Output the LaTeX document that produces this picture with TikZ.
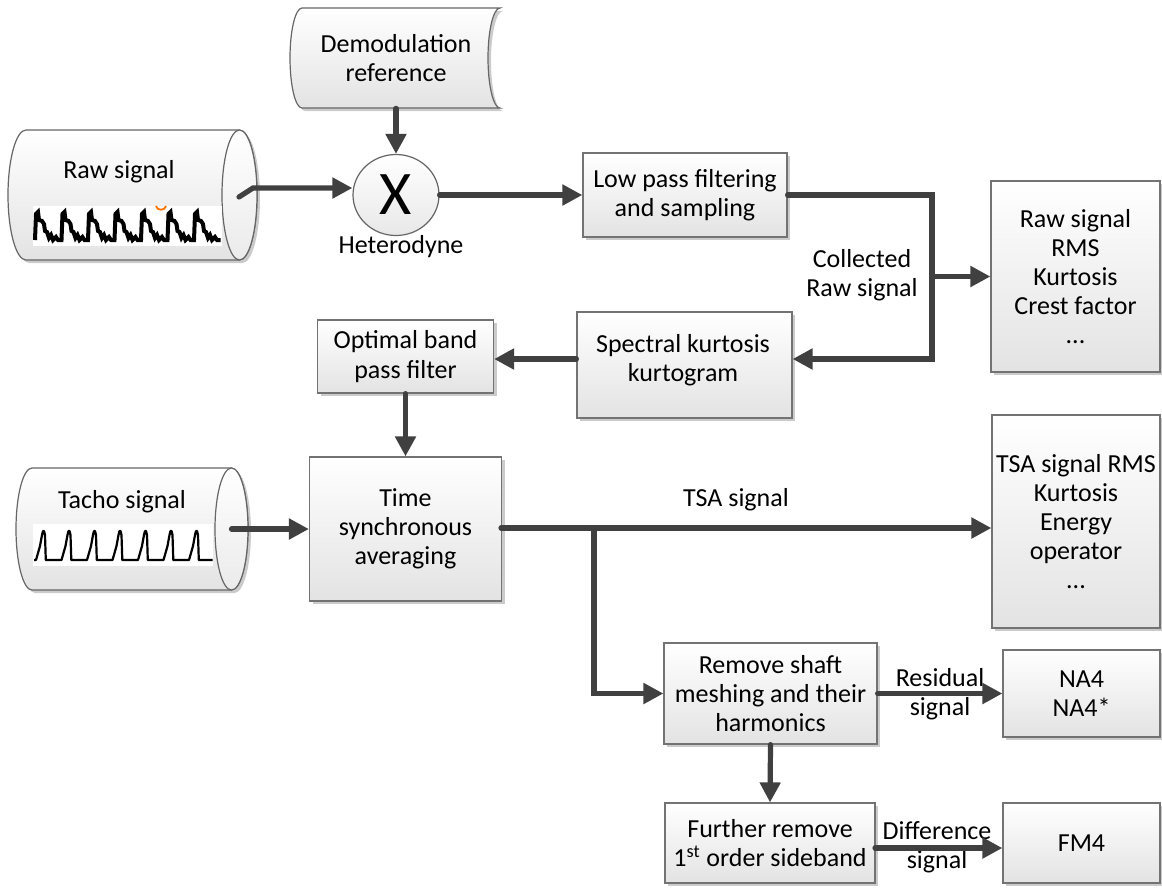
\documentclass[tikz,border=0pt]{standalone}
\usepackage{fontspec}
\setmainfont{Carlito}
\usetikzlibrary{arrows.meta,shapes.geometric,shadows}
\newcommand\dfont{\fontsize{13}{14.6}\selectfont}
\begin{document}
\begin{tikzpicture}[x=0.5pt,y=-0.5pt,
  pbox/.style={draw=black!55, line width=0.6pt, top color=white, bottom color=black!11,
    drop shadow={shadow xshift=1.5pt, shadow yshift=-1.5pt, fill=black!45, opacity=0.45},
    align=center, font=\dfont, inner sep=0pt},
  shp/.style={draw=black!60, line width=0.6pt, top color=white, bottom color=black!11,
    drop shadow={shadow xshift=1.5pt, shadow yshift=-1.5pt, fill=black!45, opacity=0.45}},
  arr/.style={draw=black!75, line width=2.6pt, line cap=round,
    -{Triangle[length=10pt,width=10pt]}},
  lbl/.style={align=center, font=\dfont, inner sep=0pt},
  wave/.style={draw=black}
]
\useasboundingbox (0,0) rectangle (1162,891);

% ---------- Demodulation reference (stored data shape)
\path[shp] (302,8) -- (500,8) .. controls (493.4,8) and (488,30.4) .. (488,58)
  .. controls (488,85.6) and (493.4,108) .. (500,108) -- (302,108)
  .. controls (295.4,108) and (290,85.6) .. (290,58)
  .. controls (290,30.4) and (295.4,8) .. (302,8) -- cycle;
\node[lbl, minimum width=100pt, minimum height=50pt] (demod) at (396,58) {Demodulation\\reference};

% ---------- Raw signal drum
\path[shp] (26,130) -- (239.5,130) .. controls (249.2,130) and (257,159.1) .. (257,195)
  .. controls (257,230.9) and (249.2,260) .. (239.5,260) -- (26,260)
  .. controls (16.1,260) and (8,230.9) .. (8,195)
  .. controls (8,159.1) and (16.1,130) .. (26,130) -- cycle;
\draw[draw=black!60, line width=0.6pt, top color=white, bottom color=black!8] (239.5,195) ellipse [x radius=8.75pt, y radius=32.5pt];
\node[lbl] (rawsig) at (119,172) {Raw signal};
\fill[white] (33,206) rectangle (222,246);
\draw[wave, line width=2pt, line join=miter] (35,240) \foreach \i in {1,...,7} {
  -- ++(1,-26) -- ++(2,-2) -- ++(1,8) -- ++(3,1) -- ++(2,3) -- ++(1,7) -- ++(2,1) -- ++(2,6)
  -- ++(2,-3) -- ++(2,5) -- ++(3,-3) -- ++(2,3) -- ++(3.5,0)};
\draw[line width=0.9pt, orange!90!red] (156,206) .. controls (157,211) and (165,211) .. (166,206);
\coordinate (rawout) at (239,197);
\coordinate (rawbend) at (253,188);

% ---------- Heterodyne
\node[draw=black!60, line width=0.6pt, ellipse, minimum width=43pt, minimum height=40.5pt, inner sep=0pt,
  top color=white, bottom color=black!9, font=\fontsize{31}{36}\selectfont] (circ) at (396,195) {X};
\node[lbl] (het) at (401,247) {Heterodyne};

% ---------- Boxes
\node[pbox, minimum width=102pt, minimum height=42pt] (lowpass) at (685,195) {Low pass filtering\\and sampling};
\node[pbox, minimum width=107.5pt, minimum height=53pt] (spectral) at (684.5,365) {};
\node[lbl] (spectxt) at (683,360) {Spectral kurtosis\\kurtogram};
\node[pbox, minimum width=88pt, minimum height=36.5pt] (optimal) at (405.5,356.5) {Optimal band\\pass filter};
\node[pbox, minimum width=96pt, minimum height=72pt] (tsa) at (405.5,529) {Time\\synchronous\\averaging};
\node[pbox, minimum width=106.5pt, minimum height=50.5pt] (remove) at (770.5,693.5) {Remove shaft\\meshing and their\\harmonics};
\node[pbox, minimum width=105pt, minimum height=40pt] (further) at (770,843) {Further remove\\1\textsuperscript{st} order sideband};
\node[pbox, minimum width=78.5pt, minimum height=43.5pt] (na4) at (1081.5,693.5) {NA4\\NA4*};
\node[pbox, minimum width=78.5pt, minimum height=40pt] (fm4) at (1081.5,843) {FM4};
\node[pbox, minimum width=84.5pt, minimum height=95.5pt] (rawm) at (1075.5,276.5) {Raw signal\\RMS\\Kurtosis\\Crest factor\\...};
\node[pbox, minimum width=84pt, minimum height=106.5pt] (tsam) at (1076,521.5) {TSA signal RMS\\Kurtosis\\Energy\\operator\\...};

% ---------- Tacho signal drum
\path[shp] (32,468) -- (231.5,468) .. controls (240.6,468) and (248,495.3) .. (248,529)
  .. controls (248,562.7) and (240.6,590) .. (231.5,590) -- (32,590)
  .. controls (23.2,590) and (16,562.7) .. (16,529)
  .. controls (16,495.3) and (23.2,468) .. (32,468) -- cycle;
\draw[draw=black!60, line width=0.6pt, top color=white, bottom color=black!8] (231.5,529) ellipse [x radius=8.25pt, y radius=30.5pt];
\node[lbl] (tacho) at (122,502) {Tacho signal};
\fill[white] (33,524) rectangle (213,566);
\draw[wave, line width=1.1pt, line join=round] (34,560) \foreach \i in {1,...,7} {
  -- ++(2,0) -- ++(4,-14) -- ++(2,-11) -- ++(1,-4) -- ++(1,0) -- ++(1,4) -- ++(0.8,25) -- ++(13.7,0)};
\coordinate (tachoout) at (231.5,529);

% ---------- Labels
\node[lbl] (collected) at (862,275) {Collected\\Raw signal};
\node[lbl] (tsalbl) at (736,500) {TSA signal};
\node[lbl] (resid) at (940,694) {Residual\\signal};
\node[lbl] (diff) at (937,847) {Difference\\signal};

% ---------- Connectors
\coordinate (jn1) at (932,195);
\coordinate (jn2) at (932,359);
\coordinate (br) at (594,528);
\coordinate (tsaout) at (501,528);
\coordinate (dif) at (875,848);
\draw[arr] (demod.south) -- (circ.north);
\draw[arr] (rawout) -- (rawbend) -- (rawbend -| circ.west);
\draw[arr] (circ.east) -- (lowpass.west);
\draw[arr] (lowpass.east) -- (jn1) -- (jn2) -- (jn2 -| spectral.east);
\draw[arr] (jn1 |- rawm.west) -- (rawm.west);
\draw[arr] (jn2 -| spectral.west) -- (jn2 -| optimal.east);
\draw[arr] (optimal.south) -- (tsa.north);
\draw[arr] (tachoout) -- (tachoout -| tsa.west);
\draw[arr] (tsaout) -- (tsaout -| tsam.west);
\draw[arr] (br) -- (br |- remove.west) -- (remove.west);
\draw[arr] (remove.east) -- (remove.east -| na4.west);
\draw[arr] (remove.south) -- (further.north);
\draw[arr] (dif) -- (dif -| fm4.west);
\end{tikzpicture}
\end{document}
